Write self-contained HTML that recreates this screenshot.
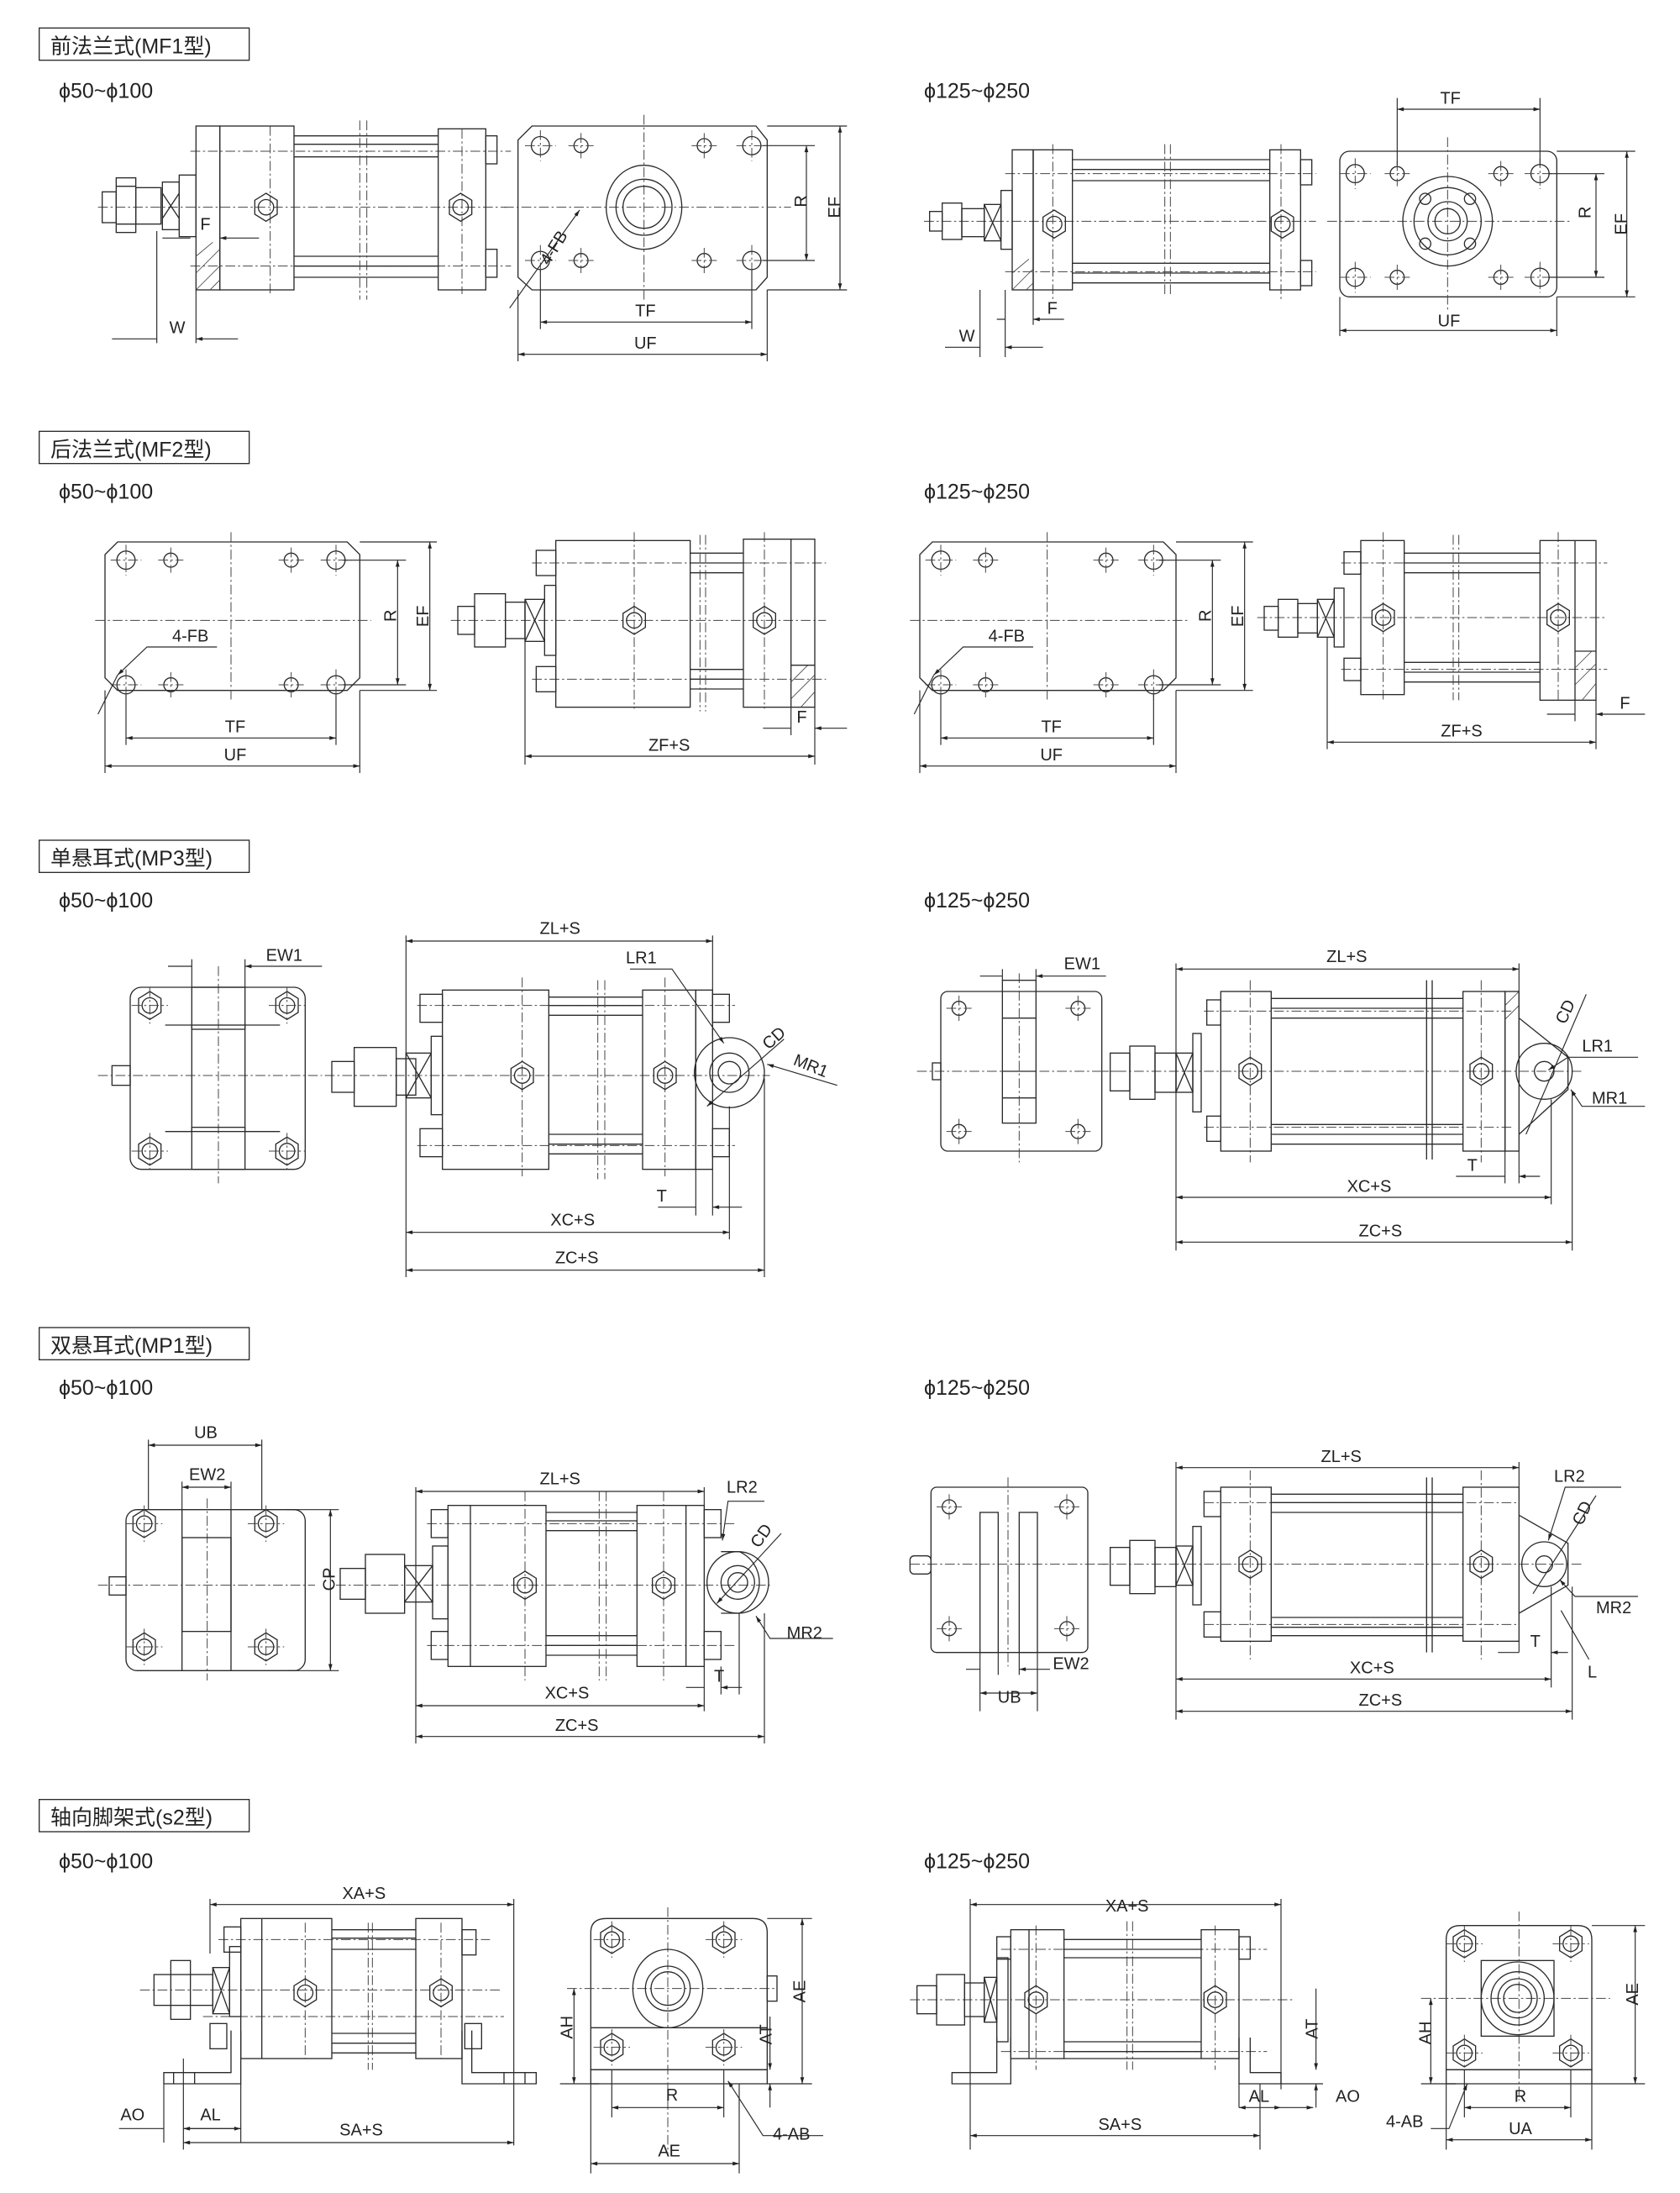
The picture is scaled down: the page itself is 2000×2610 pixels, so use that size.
<!DOCTYPE html>
<html><head><meta charset="utf-8"><style>
html,body{margin:0;padding:0;background:#fff}
svg{display:block}
.s{fill:none;stroke:#2a2a2a;stroke-width:.8}
.c{fill:none;stroke:#444;stroke-width:.6;stroke-dasharray:7 2 1.5 2}
.d{fill:none;stroke:#2a2a2a;stroke-width:.7}
.h{fill:none;stroke:#444;stroke-width:.5}
text{font-family:"Liberation Sans","Noto Sans CJK SC",sans-serif;fill:#222}
.t{font-size:15px}
.l{font-size:12px}
</style></head><body>
<svg width="2000" height="2610" viewBox="0 0 1200 1566" xmlns="http://www.w3.org/2000/svg">
<defs>
<marker id="a" viewBox="0 0 10 6" refX="10" refY="3" markerWidth="7" markerHeight="4" orient="auto-start-reverse"><path d="M0 0L10 3L0 6z" fill="#222"/></marker>
<g id="hx"><polygon class="s" points="0,-10 8,-5 8,5 0,10 -8,5 -8,-5"/><circle class="s" r="5.5"/></g>
<g id="ho"><circle class="s" r="6.5"/><path class="c" d="M-11 0H11M0 -11V11"/></g>
<g id="hs"><circle class="s" r="5"/><path class="c" d="M-9 0H9M0 -9V9"/></g>
<g id="hn"><polygon class="s" points="0,-10 8,-5 8,5 0,10 -8,5 -8,-5"/><circle class="s" r="5.5"/><path class="c" d="M-13 0H13M0 -13V13"/></g>
</defs>

<!-- ===== Section 1 ===== -->
<rect x="28" y="20" width="150" height="23" class="s" stroke-width="1"/>
<text x="36" y="38" class="t">前法兰式(MF1型)</text>
<text x="42" y="70" class="t">ϕ50~ϕ100</text>
<text x="660" y="70" class="t">ϕ125~ϕ250</text>

<!-- Fig1 side -->
<path class="c" d="M70 148H362M136 108H365M136 190H365M193 90V210M330 92V210"/>
<rect x="73" y="137" width="10" height="22" class="s"/>
<rect x="83" y="127" width="14" height="39" class="s"/>
<path class="s" d="M83 133H97M83 160H97"/>
<rect x="97" y="134" width="18" height="26" class="s"/>
<rect x="116" y="130" width="12" height="34" class="s"/><path class="s" d="M116 138L128 156M128 138L116 156"/>
<rect x="128" y="125" width="12" height="44" class="s"/>
<rect x="140" y="90" width="17" height="117" class="s"/>
<rect x="157" y="90" width="53" height="117" class="s"/>
<path class="h" d="M140 183L152 173M140 195L157 178M140 207L157 190M150 207L157 200"/>
<path class="s" d="M210 97H313M210 103H313M210 112H313M210 183H313M210 190H313M210 198H313"/>
<path class="c" d="M257 86V214M262 86V214"/>
<rect x="313" y="92" width="34" height="115" class="s"/>
<rect x="347" y="97" width="8" height="20" class="s"/><rect x="347" y="178" width="8" height="20" class="s"/>
<use href="#hx" x="190" y="148"/><use href="#hx" x="329" y="148"/>
<text x="143" y="164" class="l">F</text>
<path class="d" d="M116 170H136M185 170H157" marker-end="url(#a)"/>
<path class="d" d="M112 165V245M140 207V245"/>
<path class="d" d="M80 242H112M170 242H140" marker-end="url(#a)"/>
<text x="121" y="238" class="l">W</text>
<!-- Fig1 front -->
<path class="s" d="M380 90H540L548 100V198L540 207H380L370 198V100Z"/>
<path class="c" d="M460 82V215M360 148H565"/>
<use href="#ho" x="386" y="104"/><use href="#hs" x="415" y="104"/><use href="#hs" x="503" y="104"/><use href="#ho" x="537" y="104"/>
<use href="#ho" x="386" y="186"/><use href="#hs" x="415" y="186"/><use href="#hs" x="503" y="186"/><use href="#ho" x="537" y="186"/>
<ellipse cx="460" cy="148" rx="27" ry="30" class="s"/><circle cx="460" cy="148" r="20" class="s"/><circle cx="460" cy="148" r="15" class="s"/>
<path class="d" d="M545 104H582M545 186H582M548 90H605M548 207H605"/>
<path class="d" d="M576 104V186" marker-start="url(#a)" marker-end="url(#a)"/>
<path class="d" d="M600 90V207" marker-start="url(#a)" marker-end="url(#a)"/>
<text x="572" y="152" class="l" transform="rotate(-90 572 148)">R</text>
<text x="596" y="152" class="l" transform="rotate(-90 596 148)" text-anchor="middle">EF</text>
<path class="d" d="M386 193V235M537 193V235M370 207V258M548 207V258"/>
<path class="d" d="M386 230H537" marker-start="url(#a)" marker-end="url(#a)"/>
<path class="d" d="M370 253H548" marker-start="url(#a)" marker-end="url(#a)"/>
<text x="461" y="226" class="l" text-anchor="middle">TF</text>
<text x="461" y="249" class="l" text-anchor="middle">UF</text>
<path class="d" d="M364 220L414 150" marker-end="url(#a)"/>
<text x="0" y="0" class="l" transform="translate(392 190) rotate(-58)">4-FB</text>

<!-- Fig2 side -->
<path class="c" d="M660 158H940M718 124H940M718 194H940M752 103V215M915 103V215"/>
<rect x="664" y="151" width="9" height="14" class="s"/>
<rect x="673" y="145" width="14" height="26" class="s"/><rect x="687" y="149" width="16" height="20" class="s"/>
<rect x="703" y="146" width="12" height="26" class="s"/><path class="s" d="M703 146L715 172M715 146L703 172"/>
<rect x="715" y="136" width="8" height="42" class="s"/>
<rect x="723" y="107" width="15" height="100" class="s"/>
<rect x="738" y="107" width="28" height="100" class="s"/>
<path class="h" d="M723 195L735 185M723 207L738 192M733 207L738 202"/>
<path class="s" d="M766 114H907M766 121H907M766 129H907M766 188H907M766 195H907M766 202H907"/>
<path class="c" d="M832 103V212M836 103V212"/>
<rect x="907" y="107" width="22" height="100" class="s"/>
<rect x="929" y="114" width="8" height="18" class="s"/><rect x="929" y="186" width="8" height="18" class="s"/>
<use href="#hx" x="753" y="160"/><use href="#hx" x="916" y="160"/>
<path class="d" d="M718 207V255M738 207V232M700 207V255"/>
<path class="d" d="M712 228H718M760 228H738" marker-end="url(#a)"/>
<text x="748" y="224" class="l">F</text>
<path class="d" d="M675 248H700M745 248H718" marker-end="url(#a)"/>
<text x="685" y="244" class="l">W</text>
<!-- Fig2 front -->
<rect x="957" y="108" width="155" height="104" rx="7" class="s"/>
<path class="c" d="M1034 98V222M948 158H1122"/>
<use href="#ho" x="968" y="124"/><use href="#hs" x="998" y="124"/><use href="#hs" x="1072" y="124"/><use href="#ho" x="1100" y="124"/>
<use href="#ho" x="968" y="198"/><use href="#hs" x="998" y="198"/><use href="#hs" x="1072" y="198"/><use href="#ho" x="1100" y="198"/>
<circle cx="1034" cy="158" r="32" class="s"/><circle cx="1034" cy="158" r="24" class="s"/><circle cx="1034" cy="158" r="14" class="s"/><circle cx="1034" cy="158" r="9" class="s"/>
<circle cx="1018" cy="142" r="4" class="s"/><circle cx="1050" cy="142" r="4" class="s"/><circle cx="1018" cy="174" r="4" class="s"/><circle cx="1050" cy="174" r="4" class="s"/>
<path class="d" d="M998 70V118M1100 70V118"/>
<path class="d" d="M998 78H1100" marker-start="url(#a)" marker-end="url(#a)"/>
<text x="1036" y="74" class="l" text-anchor="middle">TF</text>
<path class="d" d="M1106 124H1146M1106 198H1146M1112 108H1168M1112 212H1168"/>
<path class="d" d="M1140 124V198" marker-start="url(#a)" marker-end="url(#a)"/>
<path class="d" d="M1162 108V212" marker-start="url(#a)" marker-end="url(#a)"/>
<text x="1136" y="164" class="l" transform="rotate(-90 1132 160)">R</text>
<text x="1158" y="164" class="l" transform="rotate(-90 1158 160)" text-anchor="middle">EF</text>
<path class="d" d="M957 212V240M1112 212V240"/>
<path class="d" d="M957 236H1112" marker-start="url(#a)" marker-end="url(#a)"/>
<text x="1035" y="233" class="l" text-anchor="middle">UF</text>

<!-- ===== Section 2 ===== -->
<rect x="28" y="308" width="150" height="23" class="s" stroke-width="1"/>
<text x="36" y="326" class="t">后法兰式(MF2型)</text>
<text x="42" y="356" class="t">ϕ50~ϕ100</text>
<text x="660" y="356" class="t">ϕ125~ϕ250</text>
<!-- Fig3 front -->
<path class="s" d="M84 387H248L257 396V484L248 493H84L75 484V396Z"/>
<path class="c" d="M165 380V500M68 443H265"/>
<use href="#ho" x="90" y="400"/><use href="#hs" x="122" y="400"/><use href="#hs" x="208" y="400"/><use href="#ho" x="240" y="400"/>
<use href="#ho" x="90" y="489"/><use href="#hs" x="122" y="489"/><use href="#hs" x="208" y="489"/><use href="#ho" x="240" y="489"/>
<path class="d" d="M245 400H290M245 489H290M257 387H312M257 493H312"/>
<path class="d" d="M284 400V489" marker-start="url(#a)" marker-end="url(#a)"/>
<path class="d" d="M307 387V493" marker-start="url(#a)" marker-end="url(#a)"/>
<text x="279" y="448" class="l" transform="rotate(-90 279 444)">R</text>
<text x="302" y="444" class="l" transform="rotate(-90 302 440)" text-anchor="middle">EF</text>
<path class="d" d="M155 462H105L84 482" marker-end="url(#a)"/><path class="d" d="M84 482L70 510"/>
<text x="123" y="458" class="l">4-FB</text>
<path class="d" d="M90 496V532M240 496V532M75 493V552M257 493V552"/>
<path class="d" d="M90 527H240" marker-start="url(#a)" marker-end="url(#a)"/>
<path class="d" d="M75 547H257" marker-start="url(#a)" marker-end="url(#a)"/>
<text x="168" y="523" class="l" text-anchor="middle">TF</text>
<text x="168" y="543" class="l" text-anchor="middle">UF</text>
<!-- Fig3 side -->
<path class="c" d="M322 443H590M380 402H590M380 485H590M453 380V506M546 380V506"/>
<rect x="327" y="433" width="12" height="20" class="s"/><rect x="339" y="424" width="22" height="38" class="s"/>
<rect x="361" y="430" width="14" height="26" class="s"/><rect x="375" y="428" width="14" height="30" class="s"/><path class="s" d="M375 428L389 458M389 428L375 458"/>
<rect x="389" y="418" width="8" height="50" class="s"/>
<rect x="383" y="393" width="14" height="18" class="s"/><rect x="383" y="476" width="14" height="18" class="s"/>
<rect x="397" y="386" width="96" height="119" class="s"/>
<path class="s" d="M493 395H531M493 402H531M493 409H531M493 478H531M493 485H531M493 492H531"/>
<path class="c" d="M500 382V508M504 382V508"/>
<rect x="531" y="385" width="51" height="120" class="s"/><path class="s" d="M565 385V505"/>
<path class="h" d="M565 487L577 475M565 499L582 482M572 505L582 494"/><path class="s" d="M565 475H582"/>
<use href="#hx" x="453" y="443"/><use href="#hx" x="546" y="443"/>
<path class="d" d="M375 458V546M582 505V546M565 505V525"/>
<path class="d" d="M375 540H582" marker-start="url(#a)" marker-end="url(#a)"/>
<text x="478" y="536" class="l" text-anchor="middle">ZF+S</text>
<path class="d" d="M545 520H565M605 520H582" marker-end="url(#a)"/>
<text x="569" y="516" class="l">F</text>

<!-- Fig4 front -->
<path class="s" d="M666 387H831L840 396V484L831 493H666L657 484V396Z"/>
<path class="c" d="M748 380V500M650 443H848"/>
<use href="#ho" x="672" y="400"/><use href="#hs" x="704" y="400"/><use href="#hs" x="790" y="400"/><use href="#ho" x="824" y="400"/>
<use href="#ho" x="672" y="489"/><use href="#hs" x="704" y="489"/><use href="#hs" x="790" y="489"/><use href="#ho" x="824" y="489"/>
<path class="d" d="M828 400H872M828 489H872M840 387H895M840 493H895"/>
<path class="d" d="M866 400V489" marker-start="url(#a)" marker-end="url(#a)"/>
<path class="d" d="M889 387V493" marker-start="url(#a)" marker-end="url(#a)"/>
<text x="861" y="448" class="l" transform="rotate(-90 861 444)">R</text>
<text x="884" y="444" class="l" transform="rotate(-90 884 440)" text-anchor="middle">EF</text>
<path class="d" d="M738 462H688L667 482" marker-end="url(#a)"/><path class="d" d="M667 482L653 510"/>
<text x="706" y="458" class="l">4-FB</text>
<path class="d" d="M672 496V532M824 496V532M657 493V552M840 493V552"/>
<path class="d" d="M672 527H824" marker-start="url(#a)" marker-end="url(#a)"/>
<path class="d" d="M657 547H840" marker-start="url(#a)" marker-end="url(#a)"/>
<text x="751" y="523" class="l" text-anchor="middle">TF</text>
<text x="751" y="543" class="l" text-anchor="middle">UF</text>
<!-- Fig4 side -->
<path class="c" d="M898 441H1148M958 402H1148M958 478H1148M988 380V500M1113 380V500"/>
<rect x="903" y="433" width="10" height="17" class="s"/><rect x="913" y="428" width="14" height="27" class="s"/><rect x="927" y="431" width="14" height="21" class="s"/>
<rect x="941" y="428" width="12" height="27" class="s"/><path class="s" d="M941 428L953 455M953 428L941 455"/>
<rect x="953" y="420" width="7" height="42" class="s"/>
<rect x="960" y="394" width="12" height="16" class="s"/><rect x="960" y="470" width="12" height="16" class="s"/>
<rect x="972" y="386" width="31" height="110" class="s"/>
<path class="s" d="M1003 395H1100M1003 402H1100M1003 409H1100M1003 473H1100M1003 480H1100M1003 487H1100"/>
<path class="c" d="M1038 382V500M1042 382V500"/>
<rect x="1100" y="386" width="40" height="114" class="s"/><path class="s" d="M1125 386V500M1125 465H1140"/>
<path class="h" d="M1125 477L1137 465M1125 489L1140 474M1130 500L1140 488"/>
<use href="#hx" x="988" y="441"/><use href="#hx" x="1113" y="441"/>
<path class="d" d="M948 455V535M1140 500V535M1125 500V515"/>
<path class="d" d="M948 530H1140" marker-start="url(#a)" marker-end="url(#a)"/>
<text x="1044" y="526" class="l" text-anchor="middle">ZF+S</text>
<path class="d" d="M1105 510H1125M1175 510H1140" marker-end="url(#a)"/>
<text x="1157" y="506" class="l">F</text>

<!-- ===== Section 3 ===== -->
<rect x="28" y="600" width="150" height="23" class="s" stroke-width="1"/>
<text x="36" y="618" class="t">单悬耳式(MP3型)</text>
<text x="42" y="648" class="t">ϕ50~ϕ100</text>
<text x="660" y="648" class="t">ϕ125~ϕ250</text>
<!-- Fig5 front -->
<rect x="93" y="705" width="125" height="130" rx="8" class="s"/>
<path class="c" d="M156 690V845M70 768H230"/>
<use href="#hn" x="107" y="718"/><use href="#hn" x="205" y="718"/><use href="#hn" x="107" y="822"/><use href="#hn" x="205" y="822"/>
<rect x="137" y="705" width="38" height="30" class="s"/><rect x="137" y="732" width="38" height="76" class="s"/><rect x="137" y="805" width="38" height="30" class="s"/>
<path class="s" d="M118 732H137M175 732H200M118 808H137M175 808H200"/>
<rect x="80" y="761" width="13" height="14" class="s"/>
<path class="d" d="M137 705V685M175 705V685"/>
<path class="d" d="M120 690H137M230 690H175" marker-end="url(#a)"/>
<text x="190" y="686" class="l">EW1</text>
<!-- Fig5 side -->
<path class="c" d="M232 768H550M298 718H525M298 818H525M373 698V840M475 698V840"/>
<rect x="237" y="758" width="16" height="22" class="s"/><rect x="253" y="748" width="30" height="42" class="s"/>
<rect x="283" y="756" width="14" height="26" class="s"/><rect x="290" y="752" width="18" height="32" class="s"/><path class="s" d="M290 752L308 784M308 752L290 784"/>
<rect x="308" y="740" width="8" height="56" class="s"/>
<rect x="300" y="710" width="16" height="20" class="s"/><rect x="300" y="806" width="16" height="20" class="s"/>
<rect x="316" y="707" width="76" height="128" class="s"/>
<path class="s" d="M392 712H459M392 718H459M392 725H459M392 810H459M392 817H459M392 824H459"/>
<path class="c" d="M427 700V842M432 700V842"/>
<rect x="459" y="707" width="38" height="128" class="s"/>
<rect x="497" y="707" width="12" height="128" class="s"/>
<rect x="509" y="710" width="12" height="20" class="s"/><rect x="509" y="806" width="12" height="20" class="s"/>
<circle cx="521" cy="766" r="25" class="s"/><circle cx="521" cy="766" r="14" class="s"/><circle cx="521" cy="766" r="8" class="s"/>
<use href="#hx" x="373" y="768"/><use href="#hx" x="475" y="768"/>
<path class="d" d="M290 668V912M509 668V740M521 790V885M546 770V912M497 835V868M509 835V868"/>
<path class="d" d="M290 672H509" marker-start="url(#a)" marker-end="url(#a)"/>
<text x="400" y="667" class="l" text-anchor="middle">ZL+S</text>
<path class="d" d="M290 880H521" marker-start="url(#a)" marker-end="url(#a)"/>
<text x="409" y="875" class="l" text-anchor="middle">XC+S</text>
<path class="d" d="M290 907H546" marker-start="url(#a)" marker-end="url(#a)"/>
<text x="412" y="902" class="l" text-anchor="middle">ZC+S</text>
<path class="d" d="M470 862H497M530 862H509" marker-end="url(#a)"/>
<text x="469" y="858" class="l">T</text>
<path class="d" d="M450 692H480L517 745" marker-end="url(#a)"/>
<text x="447" y="688" class="l">LR1</text>
<path class="d" d="M560 742L505 790" marker-end="url(#a)"/>
<text x="0" y="0" class="l" transform="translate(549 750) rotate(-42)">CD</text>
<path class="d" d="M598 775L548 760" marker-end="url(#a)"/>
<text x="0" y="0" class="l" transform="translate(566 760) rotate(22)">MR1</text>

<!-- Fig6 front -->
<rect x="672" y="708" width="115" height="114" rx="5" class="s"/>
<path class="c" d="M728 695V830M655 765H800"/>
<use href="#hs" x="685" y="720"/><use href="#hs" x="770" y="720"/><use href="#hs" x="685" y="808"/><use href="#hs" x="770" y="808"/>
<rect x="716" y="700" width="24" height="102" class="s"/><path class="s" d="M716 727H740M716 765H740M716 784H740"/>
<rect x="666" y="759" width="6" height="12" class="s"/>
<path class="d" d="M716 700V692M740 700V692"/>
<path class="d" d="M700 697H716M790 697H740" marker-end="url(#a)"/>
<text x="760" y="692" class="l">EW1</text>
<!-- Fig6 side -->
<path class="c" d="M785 765H1130M860 722H1080M860 805H1080M893 700V830M1058 700V830"/>
<rect x="793" y="752" width="14" height="27" class="s"/><rect x="807" y="747" width="18" height="38" class="s"/><rect x="825" y="752" width="15" height="28" class="s"/>
<rect x="840" y="752" width="12" height="28" class="s"/><path class="s" d="M840 752L852 780M852 752L840 780"/>
<rect x="852" y="738" width="6" height="56" class="s"/>
<rect x="862" y="714" width="10" height="18" class="s"/><rect x="862" y="797" width="10" height="18" class="s"/>
<rect x="872" y="708" width="36" height="114" class="s"/>
<path class="s" d="M908 713H1045M908 720H1045M908 727H1045M908 803H1045M908 810H1045M908 817H1045"/>
<path class="s" d="M1019 700V828M1023 700V828"/>
<rect x="1045" y="708" width="30" height="114" class="s"/><rect x="1075" y="708" width="10" height="114" class="s"/>
<path class="h" d="M1075 718L1085 708M1075 728L1085 718"/>
<path class="s" d="M1085 727L1120 755V778L1085 810"/>
<circle cx="1103" cy="765" r="20" class="s"/><circle cx="1103" cy="765" r="7" class="s"/>
<use href="#hx" x="893" y="765"/><use href="#hx" x="1058" y="765"/>
<path class="d" d="M840 688V893M1085 688V760M1108 785V860M1123 780V893M1075 822V845M1085 822V845"/>
<path class="d" d="M840 692H1085" marker-start="url(#a)" marker-end="url(#a)"/>
<text x="962" y="687" class="l" text-anchor="middle">ZL+S</text>
<path class="d" d="M840 855H1108" marker-start="url(#a)" marker-end="url(#a)"/>
<text x="978" y="851" class="l" text-anchor="middle">XC+S</text>
<path class="d" d="M840 887H1123" marker-start="url(#a)" marker-end="url(#a)"/>
<text x="986" y="883" class="l" text-anchor="middle">ZC+S</text>
<path class="d" d="M1040 840H1075M1100 840H1085" marker-end="url(#a)"/>
<text x="1048" y="836" class="l">T</text>
<path class="d" d="M1133 710L1090 810"/>
<text x="0" y="0" class="l" transform="translate(1118 732) rotate(-65)">CD</text>
<path class="d" d="M1170 755H1120L1106 764" marker-end="url(#a)"/>
<text x="1130" y="751" class="l">LR1</text>
<path class="d" d="M1175 790H1130L1122 778" marker-end="url(#a)"/>
<text x="1137" y="788" class="l">MR1</text>

<!-- ===== Section 4 ===== -->
<rect x="28" y="948" width="150" height="23" class="s" stroke-width="1"/>
<text x="36" y="966" class="t">双悬耳式(MP1型)</text>
<text x="42" y="996" class="t">ϕ50~ϕ100</text>
<text x="660" y="996" class="t">ϕ125~ϕ250</text>
<!-- Fig7 front -->
<rect x="90" y="1078" width="128" height="115" rx="8" class="s"/>
<path class="c" d="M148 1070V1200M70 1132H225"/>
<use href="#hn" x="103" y="1088"/><use href="#hn" x="190" y="1088"/><use href="#hn" x="103" y="1176"/><use href="#hn" x="190" y="1176"/>
<rect x="130" y="1098" width="35" height="67" class="s"/><path class="s" d="M130 1078V1193M165 1078V1193"/>
<rect x="78" y="1126" width="12" height="13" class="s"/>
<path class="d" d="M106 1078V1028M187 1078V1028M130 1078V1058M165 1078V1058"/>
<path class="d" d="M106 1032H187" marker-start="url(#a)" marker-end="url(#a)"/>
<text x="147" y="1027" class="l" text-anchor="middle">UB</text>
<path class="d" d="M130 1062H165" marker-start="url(#a)" marker-end="url(#a)"/>
<text x="148" y="1057" class="l" text-anchor="middle">EW2</text>
<path class="d" d="M205 1078H242M205 1193H242"/>
<path class="d" d="M236 1078V1193" marker-start="url(#a)" marker-end="url(#a)"/>
<text x="231" y="1144" class="l" transform="rotate(-90 231 1136)">CP</text>
<!-- Fig7 side -->
<path class="c" d="M240 1132H550M305 1088H525M305 1175H525M375 1065V1200M474 1065V1200"/>
<rect x="243" y="1120" width="18" height="22" class="s"/><rect x="261" y="1110" width="28" height="42" class="s"/>
<rect x="289" y="1118" width="20" height="26" class="s"/><path class="s" d="M289 1118L309 1144M309 1118L289 1144"/>
<rect x="309" y="1104" width="11" height="52" class="s"/>
<rect x="308" y="1078" width="12" height="20" class="s"/><rect x="308" y="1165" width="12" height="20" class="s"/>
<rect x="320" y="1075" width="70" height="115" class="s"/><path class="s" d="M336 1075V1190"/>
<path class="s" d="M390 1080H455M390 1086H455M390 1093H455M390 1168H455M390 1175H455M390 1182H455"/>
<path class="c" d="M428 1065V1200M433 1065V1200"/>
<rect x="455" y="1075" width="48" height="115" class="s"/><path class="s" d="M490 1075V1190"/>
<rect x="503" y="1078" width="12" height="20" class="s"/><rect x="503" y="1165" width="12" height="20" class="s"/>
<path class="s" d="M515 1108H528A24 24 0 0 1 528 1152H515"/>
<circle cx="527" cy="1130" r="22" class="s"/><circle cx="527" cy="1130" r="12" class="s"/><circle cx="527" cy="1130" r="7" class="s"/>
<use href="#hx" x="375" y="1132"/><use href="#hx" x="474" y="1132"/>
<path class="d" d="M297 1062V1245M503 1062V1075M503 1190V1222M528 1152V1210M546 1152V1245M515 1190V1210"/>
<path class="d" d="M297 1065H503" marker-start="url(#a)" marker-end="url(#a)"/>
<text x="400" y="1060" class="l" text-anchor="middle">ZL+S</text>
<path class="d" d="M297 1218H503" marker-start="url(#a)" marker-end="url(#a)"/>
<text x="405" y="1213" class="l" text-anchor="middle">XC+S</text>
<path class="d" d="M297 1240H546" marker-start="url(#a)" marker-end="url(#a)"/>
<text x="412" y="1236" class="l" text-anchor="middle">ZC+S</text>
<path class="d" d="M490 1205H503M530 1205H515" marker-end="url(#a)"/>
<text x="510" y="1201" class="l">T</text>
<path class="d" d="M546 1072H520L516 1100" marker-end="url(#a)"/>
<text x="519" y="1066" class="l">LR2</text>
<path class="d" d="M558 1095L512 1145" marker-end="url(#a)"/>
<text x="0" y="0" class="l" transform="translate(542 1106) rotate(-55)">CD</text>
<path class="d" d="M595 1170H550L540 1154" marker-end="url(#a)"/>
<text x="562" y="1170" class="l">MR2</text>

<!-- Fig8 front -->
<rect x="665" y="1062" width="112" height="118" rx="4" class="s"/>
<path class="c" d="M720 1055V1190M650 1117H790"/>
<use href="#hs" x="678" y="1076"/><use href="#hs" x="762" y="1076"/><use href="#hs" x="678" y="1163"/><use href="#hs" x="762" y="1163"/>
<rect x="700" y="1080" width="13" height="100" class="s"/><rect x="728" y="1080" width="13" height="100" class="s"/>
<rect x="650" y="1111" width="15" height="13" rx="3" class="s"/>
<path class="d" d="M700 1180V1222M741 1180V1222M713 1180V1196M728 1180V1196"/>
<path class="d" d="M690 1192H700M750 1192H728" marker-end="url(#a)"/>
<text x="752" y="1192" class="l">EW2</text>
<path class="d" d="M700 1209H741" marker-start="url(#a)" marker-end="url(#a)"/>
<text x="721" y="1216" class="l" text-anchor="middle">UB</text>
<!-- Fig8 side -->
<path class="c" d="M785 1117H1130M860 1073H1085M860 1160H1085M893 1050V1185M1058 1050V1185"/>
<rect x="793" y="1105" width="14" height="27" class="s"/><rect x="807" y="1100" width="18" height="38" class="s"/><rect x="825" y="1105" width="15" height="28" class="s"/>
<rect x="840" y="1104" width="12" height="28" class="s"/><path class="s" d="M840 1104L852 1132M852 1104L840 1132"/>
<rect x="852" y="1090" width="6" height="56" class="s"/>
<rect x="860" y="1065" width="12" height="18" class="s"/><rect x="860" y="1151" width="12" height="18" class="s"/>
<rect x="872" y="1062" width="36" height="110" class="s"/>
<path class="s" d="M908 1067H1045M908 1073H1045M908 1080H1045M908 1155H1045M908 1162H1045M908 1168H1045"/>
<path class="s" d="M1019 1055V1180M1023 1055V1180"/>
<rect x="1045" y="1062" width="40" height="110" class="s"/>
<path class="s" d="M1085 1082L1120 1102V1132L1085 1152"/>
<circle cx="1103" cy="1117" r="16" class="s"/><circle cx="1103" cy="1117" r="6" class="s"/>
<use href="#hx" x="893" y="1117"/><use href="#hx" x="1058" y="1117"/>
<path class="d" d="M840 1044V1228M1085 1044V1062M1108 1133V1205M1123 1133V1228M1085 1172V1180"/>
<path class="d" d="M840 1048H1085" marker-start="url(#a)" marker-end="url(#a)"/>
<text x="958" y="1044" class="l" text-anchor="middle">ZL+S</text>
<path class="d" d="M840 1199H1108" marker-start="url(#a)" marker-end="url(#a)"/>
<text x="980" y="1195" class="l" text-anchor="middle">XC+S</text>
<path class="d" d="M840 1222H1123" marker-start="url(#a)" marker-end="url(#a)"/>
<text x="986" y="1218" class="l" text-anchor="middle">ZC+S</text>
<path class="d" d="M1070 1180H1085M1120 1180H1108" marker-end="url(#a)"/>
<text x="1093" y="1176" class="l">T</text>
<path class="d" d="M1158 1062H1118L1106 1100" marker-end="url(#a)"/>
<text x="1110" y="1058" class="l">LR2</text>
<path class="d" d="M1140 1068L1095 1138"/>
<text x="0" y="0" class="l" transform="translate(1130 1090) rotate(-65)">CD</text>
<path class="d" d="M1170 1140H1125L1114 1128" marker-end="url(#a)"/>
<text x="1140" y="1152" class="l">MR2</text>
<path class="d" d="M1135 1185L1115 1150"/>
<text x="1134" y="1198" class="l">L</text>

<!-- ===== Section 5 ===== -->
<rect x="28" y="1285" width="150" height="23" class="s" stroke-width="1"/>
<text x="36" y="1303" class="t">轴向脚架式(s2型)</text>
<text x="42" y="1334" class="t">ϕ50~ϕ100</text>
<text x="660" y="1334" class="t">ϕ125~ϕ250</text>
<!-- Fig9 side -->
<path class="c" d="M100 1421H358M156 1385H350M145 1440H360M218 1373V1470M315 1373V1470"/>
<path class="c" d="M263 1373V1478M266 1373V1478"/>
<rect x="110" y="1410" width="42" height="22" class="s"/><rect x="122" y="1400" width="14" height="42" class="s"/>
<rect x="152" y="1405" width="12" height="33" class="s"/><path class="s" d="M152 1405L164 1438M164 1405L152 1438"/>
<rect x="164" y="1390" width="8" height="50" class="s"/>
<rect x="160" y="1376" width="12" height="18" class="s"/><rect x="150" y="1445" width="12" height="18" class="s"/>
<rect x="172" y="1370" width="65" height="100" class="s"/><path class="s" d="M187 1370V1470"/>
<path class="s" d="M237 1378H297M237 1384H297M237 1392H297M237 1452H297M237 1459H297M237 1466H297"/>
<rect x="297" y="1370" width="33" height="100" class="s"/>
<rect x="330" y="1378" width="10" height="18" class="s"/><rect x="332" y="1445" width="12" height="18" class="s"/>
<path class="s" d="M172 1450V1488H117V1480H165V1450M330 1450V1488H383V1480H337V1450"/>
<path class="s" d="M124 1480V1488M139 1480V1488M360 1480V1488M375 1480V1488"/>
<use href="#hx" x="218" y="1423"/><use href="#hx" x="315" y="1423"/>
<path class="d" d="M150 1356V1395M367 1356V1532M117 1488V1530M131 1470V1535M172 1488V1530"/>
<path class="d" d="M150 1360H367" marker-start="url(#a)" marker-end="url(#a)"/>
<text x="260" y="1356" class="l" text-anchor="middle">XA+S</text>
<path class="d" d="M85 1520H117M131 1520H172" marker-end="url(#a)"/><path class="d" d="M172 1520H131" marker-end="url(#a)"/>
<text x="86" y="1514" class="l">AO</text><text x="143" y="1514" class="l">AL</text>
<path class="d" d="M131 1530H367" marker-start="url(#a)" marker-end="url(#a)"/>
<text x="258" y="1525" class="l" text-anchor="middle">SA+S</text>
<!-- Fig9 front -->
<path class="s" d="M433 1370H538Q548 1370 548 1380V1478H422V1380Q422 1370 433 1370Z"/>
<path class="s" d="M422 1478H548V1488H422Z M422 1448H548"/>
<path class="c" d="M477 1362V1540M405 1420H555"/>
<use href="#hn" x="437" y="1385"/><use href="#hn" x="517" y="1385"/><use href="#hn" x="437" y="1462"/><use href="#hn" x="517" y="1462"/>
<ellipse cx="477" cy="1420" rx="25" ry="28" class="s"/><circle cx="477" cy="1420" r="16" class="s"/><circle cx="477" cy="1420" r="12" class="s"/>
<rect x="548" y="1411" width="7" height="18" class="s"/>
<path class="d" d="M548 1370H580M548 1488H580M400 1488H428"/>
<path class="d" d="M573 1370V1488" marker-start="url(#a)" marker-end="url(#a)"/>
<text x="569" y="1436" class="l" transform="rotate(-90 569 1430)">AE</text>
<path class="d" d="M410 1420V1488" marker-start="url(#a)" marker-end="url(#a)"/>
<text x="403" y="1462" class="l" transform="rotate(-90 403 1456)">AH</text>
<path class="d" d="M550 1440V1478" marker-end="url(#a)"/><path class="d" d="M550 1505V1488" marker-end="url(#a)"/>
<text x="545" y="1466" class="l" transform="rotate(-90 545 1460)">AT</text>
<path class="d" d="M437 1478V1512M517 1478V1512M422 1488V1552M528 1488V1552"/>
<path class="d" d="M437 1505H517" marker-start="url(#a)" marker-end="url(#a)"/>
<text x="480" y="1500" class="l" text-anchor="middle">R</text>
<path class="d" d="M422 1545H528" marker-start="url(#a)" marker-end="url(#a)"/>
<text x="478" y="1540" class="l" text-anchor="middle">AE</text>
<path class="d" d="M588 1525H545L520 1486" marker-end="url(#a)"/>
<text x="552" y="1528" class="l">4-AB</text>

<!-- Fig10 side -->
<path class="c" d="M650 1428H925M715 1392H905M715 1465H905M740 1375V1478M868 1375V1478"/>
<path class="c" d="M805 1372V1478M809 1372V1478"/>
<rect x="655" y="1418" width="14" height="20" class="s"/><rect x="669" y="1410" width="20" height="36" class="s"/><rect x="689" y="1416" width="14" height="24" class="s"/>
<rect x="703" y="1412" width="9" height="32" class="s"/><path class="s" d="M703 1412L712 1444M712 1412L703 1444"/>
<rect x="712" y="1398" width="8" height="60" class="s"/>
<rect x="712" y="1383" width="10" height="16" class="s"/>
<rect x="722" y="1378" width="38" height="92" class="s"/><path class="s" d="M735 1378V1470"/>
<path class="s" d="M760 1385H858M760 1392H858M760 1398H858M760 1458H858M760 1465H858M760 1470H858"/>
<rect x="858" y="1378" width="27" height="92" class="s"/>
<rect x="885" y="1383" width="8" height="16" class="s"/>
<path class="s" d="M722 1455V1488H680V1480H712V1455M885 1455V1488H915V1480H893V1455"/>
<use href="#hx" x="740" y="1428"/><use href="#hx" x="868" y="1428"/>
<path class="d" d="M693 1356V1535M915 1356V1492M885 1488V1505M900 1488V1535"/>
<path class="d" d="M693 1360H915" marker-start="url(#a)" marker-end="url(#a)"/>
<text x="805" y="1365" class="l" text-anchor="middle">XA+S</text>
<path class="d" d="M693 1525H900" marker-start="url(#a)" marker-end="url(#a)"/>
<text x="800" y="1521" class="l" text-anchor="middle">SA+S</text>
<path class="d" d="M885 1505H915" marker-start="url(#a)" marker-end="url(#a)"/>
<text x="892" y="1501" class="l">AL</text>
<path class="d" d="M915 1505H938" marker-end="url(#a)"/>
<text x="954" y="1501" class="l">AO</text>
<path class="d" d="M915 1488H945"/>
<path class="d" d="M940 1420V1478" marker-end="url(#a)"/><path class="d" d="M940 1505V1488" marker-end="url(#a)"/>
<text x="935" y="1462" class="l" transform="rotate(-90 935 1456)">AT</text>
<!-- Fig10 front -->
<path class="s" d="M1043 1375H1127Q1137 1375 1137 1385V1478H1033V1385Q1033 1375 1043 1375Z"/>
<path class="s" d="M1033 1478H1137V1488H1033Z"/>
<path class="c" d="M1085 1365V1500M1015 1427H1150"/>
<use href="#hn" x="1046" y="1388"/><use href="#hn" x="1122" y="1388"/><use href="#hn" x="1046" y="1466"/><use href="#hn" x="1122" y="1466"/>
<rect x="1058" y="1400" width="52" height="54" class="s"/>
<circle cx="1084" cy="1427" r="26" class="s"/><circle cx="1084" cy="1427" r="19" class="s"/><circle cx="1084" cy="1427" r="14" class="s"/><circle cx="1084" cy="1427" r="10" class="s"/>
<path class="d" d="M1137 1375H1175M1137 1488H1175M1015 1488H1040"/>
<path class="d" d="M1168 1375V1488" marker-start="url(#a)" marker-end="url(#a)"/>
<text x="1164" y="1438" class="l" transform="rotate(-90 1164 1432)">AE</text>
<path class="d" d="M1022 1427V1488" marker-start="url(#a)" marker-end="url(#a)"/>
<text x="1016" y="1466" class="l" transform="rotate(-90 1016 1460)">AH</text>
<path class="d" d="M1046 1478V1512M1122 1478V1512M1033 1488V1535M1137 1488V1535"/>
<path class="d" d="M1046 1505H1122" marker-start="url(#a)" marker-end="url(#a)"/>
<text x="1086" y="1501" class="l" text-anchor="middle">R</text>
<path class="d" d="M1033 1528H1137" marker-start="url(#a)" marker-end="url(#a)"/>
<text x="1086" y="1524" class="l" text-anchor="middle">UA</text>
<path class="d" d="M1022 1520H1035L1048 1488" marker-end="url(#a)"/>
<text x="990" y="1519" class="l">4-AB</text>
</svg>
</body></html>
